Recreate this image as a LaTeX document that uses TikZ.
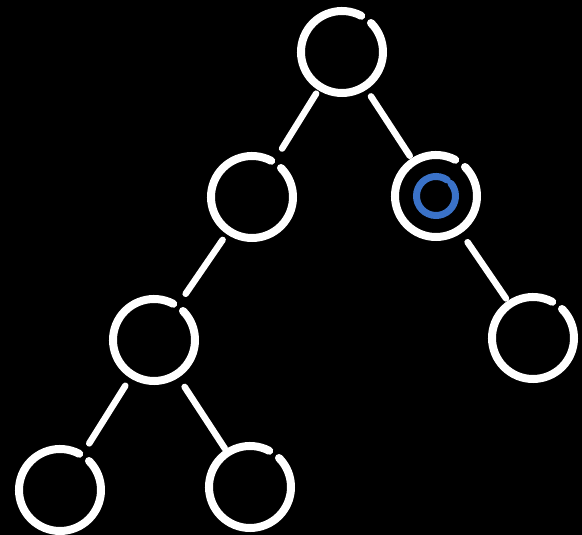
\documentclass[tikz,border=0pt]{standalone}
\begin{document}
\begin{tikzpicture}[x=1pt,y=1pt,
  vert/.style={circle, minimum size=82pt, inner sep=0pt, outer sep=0pt},
  ring/.style={draw=white, line width=8pt, line cap=round},
  edge/.style={draw=white, line width=6.5pt, line cap=round},
  inner/.style={draw=ringblue, line width=7pt, line cap=round}]
\definecolor{ringblue}{RGB}{58,114,200}
\fill[black] (0,0) rectangle (582,535);
\useasboundingbox (0,0) rectangle (582,535);
\node[vert] (root) at (342,483) {};
\node[vert] (L) at (252,338) {};
\node[vert] (R) at (436,339) {};
\node[vert] (LL) at (154,195) {};
\node[vert] (RR) at (533,197) {};
\node[vert] (LLL) at (60,45) {};
\node[vert] (LLR) at (250,48) {};
\foreach \n in {root,L,R,LL,RR,LLL,LLR}{
  \draw[ring] (\n.62) arc[start angle=62, end angle=405, radius=41pt];
}
\draw[inner] ([shift={(55:19.5pt)}]R.center) arc[start angle=55, end angle=400, radius=19.5pt];
\draw[edge, shorten <=8pt, shorten >=16pt] (root) -- (L);
\draw[edge, shorten <=12pt, shorten >=7pt] (root) -- (R);
\draw[edge, shorten <=11pt, shorten >=15pt] (L) -- (LL);
\draw[edge, shorten <=15pt, shorten >=7pt] (R) -- (RR);
\draw[edge, shorten <=13pt, shorten >=14pt] (LL) -- (LLL);
\draw[edge, shorten <=15pt, shorten >=5pt] (LL) -- (LLR);
\end{tikzpicture}
\end{document}
